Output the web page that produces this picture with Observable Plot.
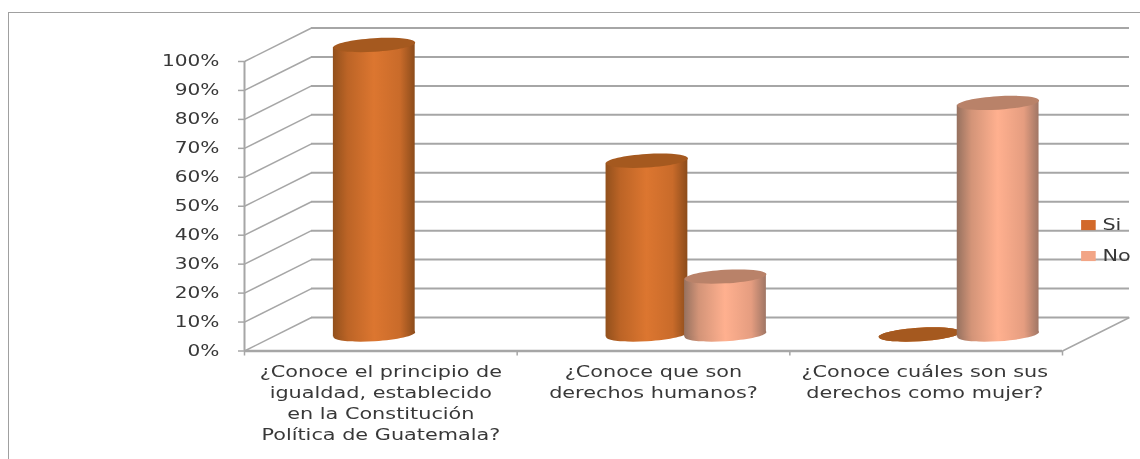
<!DOCTYPE html>
<html><head><meta charset="utf-8">
<script src="https://cdn.jsdelivr.net/npm/d3@7"></script>
<script src="https://cdn.jsdelivr.net/npm/@observablehq/plot@0.6"></script>
<style>
html,body{margin:0;padding:0;background:#fff;overflow:hidden}
#wrap{position:relative;width:1140px;height:459px}
#edge{position:absolute;left:8px;top:12px;right:0;bottom:0;border-left:1.5px solid #a0a0a0;border-top:1.5px solid #a0a0a0}
svg{position:absolute;left:0;top:0;background:transparent!important;filter:blur(.45px)}
</style></head><body>
<div id="wrap"><div id="edge"></div></div>
<script>
const categories = [
  "¿Conoce el principio de\nigualdad, establecido\nen la Constitución\nPolítica de Guatemala?",
  "¿Conoce que son\nderechos humanos?",
  "¿Conoce cuáles son sus\nderechos como mujer?"
];
const labelCenters = [0.5, 1.5, 2.495];
const siValues = [100, 60, 0];
const noValues = [null, 20, 80];
const seriesNames = ["Si", "No"];
const yTicks = [0,10,20,30,40,50,60,70,80,90,100];
const xTicks = [0,1,2,3];

// 3D depth, in data units of the x and y scales
const depthX = 0.2457, depthY = 11.57;
const midY = -16.5;             // cylinders stand at mid depth (pixels)
const halfW = 0.15, tilt = 0.85;
const siOffset = 0.476, noOffset = 0.764;
const axisColor = "#a6a6a6", textColor = "#383838";
const colors = {Si:{top:"#a5591f", swatch:"#d2692a"}, No:{top:"#b98269", swatch:"#f2a586"}};

const tiltedEllipse = {
  draw(ctx, size) {
    const rx = Math.sqrt(size / Math.PI), ry = rx * 0.165, a = -3.5 * Math.PI / 180, k = 0.5523;
    const P = (u, v) => [u*rx*Math.cos(a) - v*ry*Math.sin(a), u*rx*Math.sin(a) + v*ry*Math.cos(a)];
    ctx.moveTo(...P(1,0));
    ctx.bezierCurveTo(...P(1,k),...P(k,1),...P(0,1));
    ctx.bezierCurveTo(...P(-k,1),...P(-1,k),...P(-1,0));
    ctx.bezierCurveTo(...P(-1,-k),...P(-k,-1),...P(0,-1));
    ctx.bezierCurveTo(...P(k,-1),...P(1,-k),...P(1,0));
    ctx.closePath();
  }
};
const legendSwatch = {
  draw(ctx, size) {
    const s = Math.sqrt(size / Math.PI);
    ctx.rect(-s, -s * 0.69, 2 * s, 2 * s * 0.69);
  }
};

const rows = (values, offset) => values.map((v,i)=>({v,c:i+offset})).filter(d=>d.v!=null);
const siRows = rows(siValues, siOffset), noRows = rows(noValues, noOffset);
const bodyPts = rs => rs.flatMap(d=>[
  {k:d.c,x:d.c-halfW,y1:-tilt,y2:d.v-tilt},
  {k:d.c,x:d.c+halfW,y1:tilt,y2:d.v+tilt}
]);

const cylinder = (rs, name, r) => [
  Plot.dot(rs, {x:"c", y:()=>0, r, symbol:tiltedEllipse, fill:`url(#grad${name})`, stroke:"none", dy:midY}),
  Plot.areaY(bodyPts(rs.filter(d=>d.v>0)), {x:"x", y1:"y1", y2:"y2", z:"k", fill:`url(#grad${name})`, dy:midY}),
  Plot.dot(rs, {x:"c", y:"v", r, symbol:tiltedEllipse, fill:colors[name].top, stroke:"none", dy:midY})
];

const defs = () => {
  const g = document.createElementNS("http://www.w3.org/2000/svg","defs");
  const stops = {
    Si:[[0,"#92501c"],[.18,"#bc6426"],[.5,"#dc7630"],[.82,"#c96b2a"],[1,"#8c4c1b"]],
    No:[[0,"#96715f"],[.18,"#d39478"],[.5,"#ffb08f"],[.82,"#e59d80"],[1,"#a07665"]]
  };
  g.innerHTML = Object.entries(stops).map(([n,s])=>
    `<linearGradient id="grad${n}" x1="0" x2="1" y1="0" y2="0">`+
    s.map(([o,c])=>`<stop offset="${o}" stop-color="${c}"/>`).join("")+`</linearGradient>`).join("");
  return g;
};

const chart = Plot.plot({
  width:1140, height:459,
  marginLeft:244, marginRight:78, marginTop:61, marginBottom:108.5,
  style:{fontFamily:"'DejaVu Sans',sans-serif", background:"transparent", overflow:"visible"},
  x:{type:"linear", domain:[0,3], axis:null},
  y:{type:"linear", domain:[0,100], axis:null},
  marks:[
    defs,
    // floor and walls
    Plot.link(yTicks, {x1:()=>0, y1:d=>d, x2:()=>depthX, y2:d=>d+depthY, stroke:axisColor, strokeWidth:1.5}),
    Plot.ruleY(yTicks, {y:d=>d+depthY, x1:()=>depthX, x2:()=>3+depthX, stroke:axisColor, strokeWidth:2}),
    Plot.link([0], {x1:()=>3, y1:()=>0, x2:()=>3+depthX, y2:()=>depthY, stroke:axisColor, strokeWidth:1.5}),
    Plot.ruleX([0], {y1:()=>0, y2:()=>100, stroke:axisColor, strokeWidth:2}),
    Plot.ruleY([0], {x1:()=>0, x2:()=>3, stroke:axisColor, strokeWidth:2.5}),
    Plot.axisY({ticks:yTicks, tickSize:6, tickPadding:19, tickFormat:d=>d+"%", stroke:axisColor, strokeWidth:1.5,
      fill:textColor, fontSize:15.5, label:null, textStroke:"none"}),
    Plot.ruleX(xTicks, {x:d=>d, y1:()=>0, y2:()=>-1.73, stroke:axisColor, strokeWidth:1.5}),
    // cylinders
    ...cylinder(siRows, "Si", 41),
    ...cylinder(noRows, "No", 41),
    // category labels
    Plot.text(categories, {x:(d,i)=>labelCenters[i], y:()=>0, text:d=>d, dy:11, lineAnchor:"top",
      fontSize:16, lineHeight:1.32, fill:textColor}),
    // legend
    Plot.dot(seriesNames, {x:()=>3.095, y:(d,i)=>43.5-i*10.7, symbol:legendSwatch, r:7.3,
      fill:d=>colors[d].swatch, stroke:"none"}),
    Plot.text(seriesNames, {x:()=>3.095, y:(d,i)=>43.5-i*10.7, text:d=>d, dx:14, textAnchor:"start",
      fontSize:16, fill:textColor})
  ]
});

// the reference is stretched sideways
chart.querySelectorAll("text").forEach(t=>{
  const tr = t.getAttribute("transform");
  if (tr) t.setAttribute("transform", tr + " scale(1.3 1)");
});
document.getElementById("wrap").appendChild(chart);
</script>
</body></html>
